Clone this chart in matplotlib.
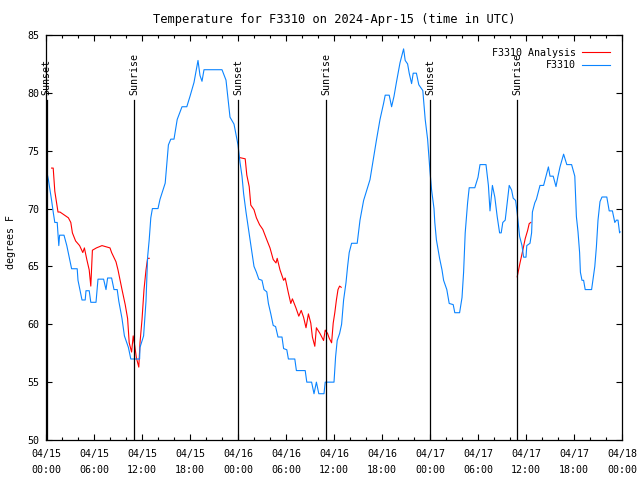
import numpy as np
import matplotlib
matplotlib.use('Agg')
import matplotlib.pyplot as plt

nan = np.nan

# hours since 04/15 00:00 UTC
blue_h = [0.0, 0.3, 0.7, 0.9, 1.1, 1.4, 1.5, 1.6, 1.7, 2.25, 2.6, 2.9, 3.2, 3.9, 4.0, 4.5,
          4.9, 5.0, 5.4, 5.6, 6.25, 6.5, 7.2, 7.5, 7.7, 8.2, 8.5, 8.9, 9.1, 9.5, 9.8, 10.3,
          10.6, 11.7, 11.75, 12.2, 12.5, 12.7, 12.9, 13.1, 13.3, 14.0, 14.25, 14.9, 15.1, 15.3,
          15.6, 16.0, 16.4, 17.0, 17.6, 18.0, 18.5, 19.0, 19.25, 19.5, 19.75, 22.0, 22.5, 23.0,
          23.5, 24.0, 24.25, 24.5, 24.7, 25.0, 25.5, 25.7, 26.0, 26.3, 26.6, 27.0, 27.25, 27.6,
          27.8, 28.1, 28.4, 28.7, 29.0, 29.5, 29.7, 30.1, 30.3, 31.1, 31.3, 32.4, 32.6, 33.2,
          33.5, 33.8, 34.1, 34.75, 34.9, 36.0, 36.2, 36.4, 36.7, 36.95, 37.2, 37.5, 37.7, 37.9,
          38.2, 38.9, 39.25, 39.7, 40.1, 40.5, 40.9, 41.3, 41.75, 42.2, 42.4, 42.9, 43.2, 43.5,
          43.8, 44.25, 44.7, 44.9, 45.2, 45.4, 45.7, 45.9, 46.3, 46.6, 47.1, 47.4, 47.7, 48.0,
          48.2, 48.5, 48.6, 48.8, 49.2, 49.5, 49.7, 50.1, 50.4, 50.9, 51.1, 51.7, 52.0, 52.2,
          52.4, 52.7, 52.9, 53.6, 54.0, 54.25, 55.0, 55.3, 55.5, 55.8, 56.1, 56.4, 56.7, 56.9,
          57.1, 57.4, 57.6, 57.7, 57.9, 58.2, 58.4, 58.7, 58.9, 59.2, 59.5, 59.7, 60.0, 60.1,
          60.5, 60.7, 60.8, 61.1, 61.3, 61.75, 62.2, 62.5, 62.8, 63.0, 63.4, 63.75, 64.0, 64.25,
          64.7, 65.1, 65.7, 66.1, 66.3, 66.5, 66.7, 66.8, 67.0, 67.2, 67.4, 68.2, 68.4, 68.6,
          68.8, 69.0, 69.25, 69.5, 70.1, 70.4, 70.8, 71.1, 71.3, 71.5, 71.7, 71.75]
blue_t = [73.5, 72.5, 70.7, 69.7, 68.8, 68.8, 67.8, 66.8, 67.7, 67.7, 66.8, 65.8, 64.8, 64.8, 63.8, 62.1,
          62.1, 62.9, 62.9, 61.9, 61.9, 63.9, 63.9, 63.0, 64.0, 64.0, 63.0, 63.0, 62.0, 60.5, 59.0, 58.0,
          57.0, 57.0, 58.0, 59.0, 62.0, 65.8, 67.3, 69.2, 70.0, 70.0, 70.8, 72.2, 73.9, 75.5,
          76.0, 76.0, 77.7, 78.8, 78.8, 79.7, 80.9, 82.8, 81.5, 81.0, 82.0, 82.0, 81.1, 77.9,
          77.3, 75.5, 74.0, 72.8, 71.3, 69.7, 67.3, 66.4, 65.0, 64.5, 63.9, 63.8, 63.0, 62.8,
          61.8, 60.9, 59.9, 59.8, 58.9, 58.9, 57.9, 57.8, 57.0, 57.0, 56.0, 56.0, 55.0, 55.0,
          54.0, 55.0, 54.0, 54.0, 55.0, 55.0, 57.2, 58.6, 59.2, 60.0, 62.1, 63.6, 65.0, 66.2,
          67.0, 67.0, 69.0, 70.7, 71.6, 72.5, 74.2, 75.9, 77.7, 79.1, 79.8, 79.8, 78.8, 79.7,
          80.9, 82.6, 83.8, 82.8, 82.5, 81.7, 80.8, 81.7, 81.7, 80.7, 80.2, 77.7, 76.0, 73.2,
          71.6, 70.0, 68.8, 67.3, 65.7, 64.7, 63.8, 63.0, 61.8, 61.7, 61.0, 61.0, 62.3, 64.5,
          67.9, 70.5, 71.8, 71.8, 72.7, 73.8, 73.8, 72.0, 69.8, 72.0, 71.0, 69.3, 67.9, 67.9,
          68.8, 69.0, 70.2, 70.8, 72.0, 71.6, 70.9, 70.7, 69.6, 67.6, 66.8, 65.8, 65.8, 66.8,
          67.0, 67.9, 69.7, 70.5, 70.8, 72.0, 72.0, 72.8, 73.6, 72.8, 72.8, 71.9, 72.8, 73.6,
          74.7, 73.8, 73.8, 72.8, 69.3, 68.0, 66.2, 64.5, 63.8, 63.8, 63.0, 63.0, 64.0, 65.0,
          66.7, 69.0, 70.6, 71.0, 71.0, 69.8, 69.8, 68.8, 69.0, 69.0, 67.9, 68.0]

# analysis series, gaps marked with nan
red_h = [0.7, 0.9, 1.1, 1.5, 1.75, 2.8, 3.1, 3.3, 3.7, 4.2, 4.6, 4.8, 5.1, 5.4, 5.6, 5.8,
         6.3, 7.0, 8.0, 8.2, 8.75, 9.0, 9.5, 9.9, 10.2, 10.4, 10.7, 10.9, 11.1, 11.3, 11.6,
         11.75, 12.0, 12.25, 12.5, 12.7, 12.9, nan,
         24.25, 24.9, 25.1, 25.4, 25.6, 26.0, 26.3, 26.7, 27.1, 27.6, 28.0, 28.4, 28.75, 28.9,
         29.25, 29.7, 29.9, 30.3, 30.6, 30.8, 31.25, 31.6, 31.9, 32.2, 32.5, 32.8, 33.1, 33.3,
         33.6, 33.8, 34.25, 34.7, 34.9, 35.2, 35.4, 35.7, 35.9, 36.1, 36.3, 36.5, 36.7, 36.9, nan,
         58.9, 59.25, 59.6, 59.9, 60.2, 60.4, 60.6]
red_t = [73.5, 73.5, 71.5, 69.7, 69.7, 69.2, 68.8, 67.9, 67.2, 66.8, 66.2, 66.6, 65.6, 64.7, 63.3, 66.4,
         66.6, 66.8, 66.6, 66.2, 65.4, 64.7, 63.0, 61.7, 60.5, 58.4, 57.6, 59.0, 58.1, 57.1, 56.3,
         58.4, 60.4, 63.0, 64.7, 65.7, 65.7, nan,
         74.4, 74.3, 72.9, 71.9, 70.3, 69.9, 69.2, 68.6, 68.2, 67.3, 66.6, 65.6, 65.3, 65.7,
         64.7, 63.8, 64.0, 62.7, 61.8, 62.2, 61.4, 60.7, 61.2, 60.6, 59.7, 60.9, 60.1, 58.9,
         58.1, 59.7, 59.2, 58.6, 59.5, 59.2, 58.8, 58.4, 60.1, 61.0, 62.1, 63.0, 63.3, 63.2, nan,
         64.1, 65.3, 66.4, 67.4, 68.1, 68.7, 68.8]

sun_h = [0.1, 11.0, 24.0, 35.0, 48.0, 58.9]
sun_lbl = ['Sunset', 'Sunrise', 'Sunset', 'Sunrise', 'Sunset', 'Sunrise']

xtick_h = list(range(0, 73, 6))
xtick_lbl = ['04/15\n00:00', '04/15\n06:00', '04/15\n12:00', '04/15\n18:00',
             '04/16\n00:00', '04/16\n06:00', '04/16\n12:00', '04/16\n18:00',
             '04/17\n00:00', '04/17\n06:00', '04/17\n12:00', '04/17\n18:00',
             '04/18\n00:00']

plt.rcParams['font.family'] = 'DejaVu Sans Mono'
plt.rcParams['font.size'] = 7.2

fig = plt.figure(figsize=(6.4, 4.8), dpi=100)
ax = fig.add_axes([46/640, 1 - 440/480, 576/640, 405/480])

ax.plot(red_h, red_t, color='#ff0000', lw=0.8, label='F3310 Analysis')
ax.plot(blue_h, blue_t, color='#0a84ff', lw=0.8, label='F3310')

for h, s in zip(sun_h, sun_lbl):
    ax.axvline(h, ymin=0, ymax=0.84, color='k', lw=0.9)
    ax.text(h, 0.852, s, transform=ax.get_xaxis_transform(), rotation=90,
            ha='center', va='bottom')

ax.set_xlim(0, 72)
ax.set_ylim(50, 85)
ax.set_xticks(xtick_h)
ax.set_xticklabels(xtick_lbl, linespacing=1.75)
ax.set_xticks(range(0, 73, 2), minor=True)
ax.set_yticks(range(50, 86, 5))
ax.tick_params(which='both', direction='in', top=True, right=True, width=0.8)
ax.tick_params(which='major', length=4.5, pad=5)
ax.tick_params(axis='x', which='major', pad=6.5)
ax.tick_params(which='minor', length=2.5)
for sp in ax.spines.values():
    sp.set_linewidth(0.9)

ax.set_ylabel('degrees F')
ax.yaxis.set_label_coords(-0.052, 0.49)
ax.set_title('Temperature for F3310 on 2024-Apr-15 (time in UTC)', pad=8.5)

ax.legend(loc='upper right', frameon=False, markerfirst=False, handlelength=2.8,
          handletextpad=0.6, borderaxespad=0.85, labelspacing=0.25)

fig.savefig('out.png', dpi=100)
